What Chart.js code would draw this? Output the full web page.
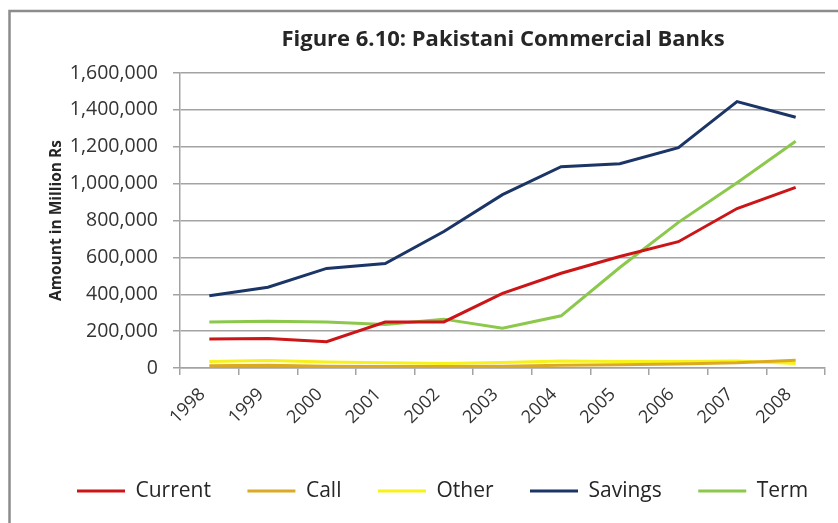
<!DOCTYPE html>
<html>
<head>
<meta charset="utf-8">
<script src="https://cdn.jsdelivr.net/npm/chart.js@4.4.1/dist/chart.umd.min.js"></script>
<style>
  html, body { margin: 0; padding: 0; background: #fff; }
  #c { display: block; }
</style>
</head>
<body>
<canvas id="c" width="838" height="523"></canvas>
<script>
// Deposits of Pakistani commercial banks by type, million Rs
const years   = ['1998', '1999', '2000', '2001', '2002', '2003', '2004', '2005', '2006', '2007', '2008'];
const current = [157000, 160000, 143000, 249000, 250000, 405000, 514000, 605000, 685000, 865000, 980000];
const call    = [12000, 15000, 10000, 8000, 8000, 10000, 15000, 18000, 22000, 28000, 42000];
const other   = [35000, 40000, 33000, 28000, 25000, 30000, 38000, 35000, 35000, 38000, 25000];
const savings = [392000, 438000, 540000, 567000, 740000, 940000, 1092000, 1108000, 1195000, 1445000, 1360000];
const term    = [249000, 254000, 249000, 236000, 265000, 216000, 283000, 545000, 790000, 1005000, 1230000];
const yTicks  = [0, 200000, 400000, 600000, 800000, 1000000, 1200000, 1400000, 1600000];

const FONT = '"Open Sans", Lato, sans-serif';
const GRID = '#a3a3a3';

// Grey frame around the chart area, opening past the right and bottom edges
const frame = {
  id: 'frame',
  beforeDraw(chart) {
    const ctx = chart.ctx;
    ctx.save();
    ctx.fillStyle = '#fff';
    ctx.fillRect(0, 0, chart.width, chart.height);
    ctx.strokeStyle = '#8c8c8c';
    ctx.lineWidth = 2.5;
    ctx.strokeRect(9.5, 11, 1000, 1000);
    ctx.restore();
  }
};

// Place the title block and the legend row after the layout pass
const placeBlocks = {
  id: 'placeBlocks',
  afterLayout(chart) {
    const t = chart.titleBlock;
    if (t) {
      const w = t.right - t.left;
      t.left = 503 - w / 2;
      t.right = t.left + w;
    }
    const lg = chart.legend;
    if (lg) {
      const w = lg.right - lg.left, h = lg.bottom - lg.top;
      const pad = lg.options.labels.padding;
      const fs = lg.options.labels.font.size;
      lg.left = 77 - pad;
      lg.right = lg.left + w;
      lg.top = 491 - pad - fs / 2;
      lg.bottom = lg.top + h;
    }
  }
};

const line = (label, data, color) => ({
  label, data,
  borderColor: color,
  backgroundColor: color,
  borderWidth: 3,
  pointRadius: 0,
  tension: 0,
  fill: false
});

new Chart(document.getElementById('c'), {
  type: 'line',
  data: {
    labels: years,
    datasets: [
      line('Current', current, '#cc1517'),
      line('Call', call, '#dcaa22'),
      line('Other', other, '#f6f21a'),
      line('Savings', savings, '#1b3566'),
      line('Term', term, '#8cc84c')
    ]
  },
  options: {
    responsive: false,
    animation: false,
    events: [],
    layout: { padding: { left: 0, right: 13, top: 0, bottom: 0 } },
    plugins: {
      title: {
        display: true,
        text: 'Figure 6.10: Pakistani Commercial Banks',
        color: '#262626',
        font: { family: FONT, size: 22, weight: 'bold' },
        padding: { top: 26.8, bottom: 19.8 }
      },
      legend: {
        display: true,
        position: 'bottom',
        align: 'start',
        labels: {
          usePointStyle: true,
          pointStyle: 'line',
          pointStyleWidth: 48,
          padding: 36.5,
          color: '#262626',
          font: { family: FONT, size: 21 }
        }
      },
      tooltip: { enabled: false }
    },
    scales: {
      x: {
        type: 'category',
        offset: true,
        grid: {
          display: true,
          drawOnChartArea: false,
          drawTicks: true,
          tickLength: 7,
          offset: true,
          color: GRID,
          lineWidth: 1.5
        },
        border: { display: true, color: GRID, width: 1.5 },
        ticks: {
          autoSkip: false,
          minRotation: 45,
          maxRotation: 45,
          padding: 9,
          labelOffset: -7,
          color: '#333',
          font: { family: FONT, size: 18 }
        },
        afterFit(s) { s.height = 87.5; }
      },
      y: {
        min: 0,
        max: 1600000,
        afterBuildTicks(s) { s.ticks = yTicks.map(v => ({ value: v })); },
        grid: {
          color: GRID,
          lineWidth: 1.5,
          tickLength: 7
        },
        border: { display: true, color: GRID, width: 1.5 },
        ticks: {
          padding: 15,
          color: '#333',
          font: { family: FONT, size: 19.5 },
          callback: v => v.toLocaleString('en-US')
        },
        title: {
          display: true,
          text: 'Amount in Million Rs',
          color: '#262626',
          font: { family: FONT, size: 15.5, weight: 'bold' },
          padding: { top: 47.5, bottom: 0 }
        },
        afterFit(s) { s.width = 180; }
      }
    }
  },
  plugins: [frame, placeBlocks]
});
</script>
</body>
</html>
